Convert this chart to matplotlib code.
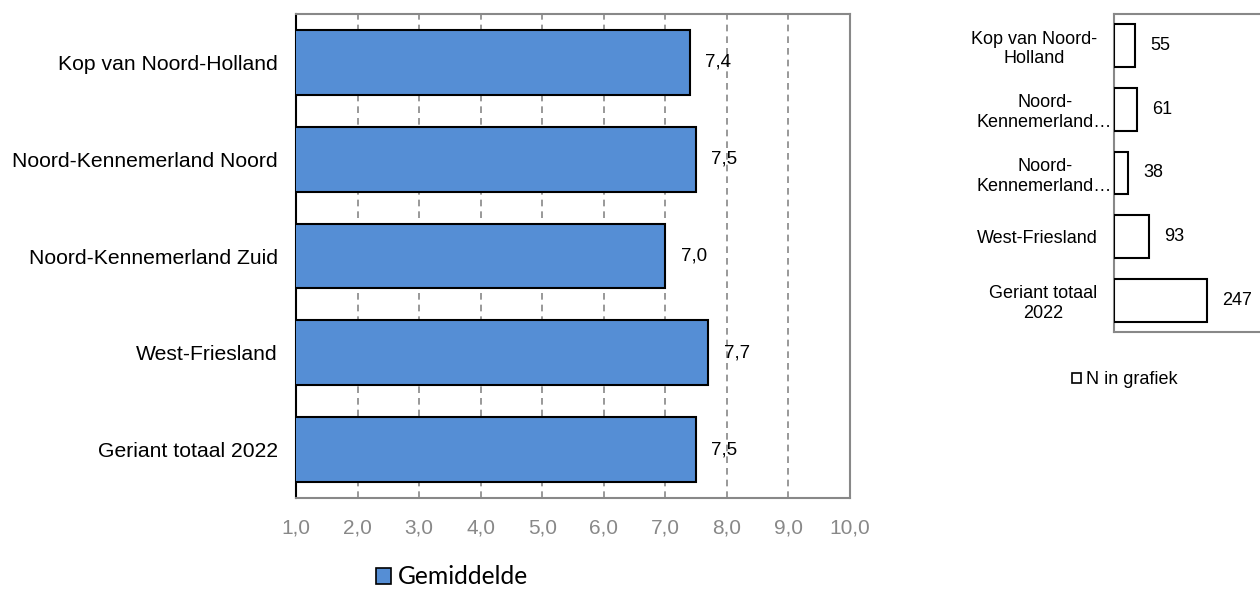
import matplotlib
matplotlib.use("Agg")
import matplotlib.pyplot as plt
from matplotlib.patches import Patch
from matplotlib.transforms import ScaledTranslation

plt.rcParams['font.family'] = ['Liberation Sans', 'DejaVu Sans']

# Gemiddelde per regio
categories = ["Kop van Noord-Holland", "Noord-Kennemerland Noord",
              "Noord-Kennemerland Zuid", "West-Friesland", "Geriant totaal 2022"]
gemiddelde = [7.4, 7.5, 7.0, 7.7, 7.5]
x_ticks = [1, 2, 3, 4, 5, 6, 7, 8, 9, 10]

# Aantallen respondenten per regio
n_labels = ["Kop van Noord-\nHolland", "Noord-\nKennemerland…", "Noord-\nKennemerland…",
            "West-Friesland", "Geriant totaal\n2022"]
n_values = [55, 61, 38, 93, 247]

blue = "#558ED5"
grey = "#888888"

fig = plt.figure(figsize=(12.6, 5.89), dpi=100)

# ---- Gemiddelde ----
ax = fig.add_axes([296 / 1260, 1 - 498 / 589, (850 - 296) / 1260, (498 - 14) / 589])
ypos = list(range(len(categories)))
ax.barh(ypos, gemiddelde, left=0, height=0.67, color=blue, edgecolor="black",
        linewidth=1.5, zorder=3)
ax.set_xlim(1, 10)
ax.set_ylim(len(categories) - 0.5, -0.5)
ax.set_xticks(x_ticks)
ax.set_xticklabels([f"{t:.1f}".replace(".", ",") for t in x_ticks])
ax.set_yticks(ypos)
ax.set_yticklabels(categories, fontsize=15.2)
ax.tick_params(axis="y", length=0, pad=13)
ax.tick_params(axis="x", length=0, pad=14.5, labelsize=15, labelcolor=grey)
for t in x_ticks[1:-1]:
    ax.axvline(t, color=grey, linestyle=(0, (4, 3)), linewidth=1.2, zorder=1)
for side in ["top", "right", "bottom"]:
    ax.spines[side].set_color(grey)
    ax.spines[side].set_linewidth(1.5)
ax.spines["left"].set_color("black")
ax.spines["left"].set_linewidth(1.5)
for y, v in zip(ypos, gemiddelde):
    ax.annotate(f"{v:.1f}".replace(".", ","), xy=(v, y), xytext=(11, 0),
                textcoords="offset points", va="center", ha="left", fontsize=13.5)

fig.legend(handles=[Patch(facecolor=blue, edgecolor="black", linewidth=1.2)],
           labels=["Gemiddelde"], loc="center left",
           bbox_to_anchor=(369 / 1260, 1 - 577 / 589), frameon=False,
           handlelength=0.6, handleheight=0.6, handletextpad=0.28,
           borderaxespad=0, borderpad=0.3,
           prop={"family": "Lato", "size": 17.7})

# ---- N in grafiek ----
ax2 = fig.add_axes([1114 / 1260, 1 - 332 / 589, 150 / 1260, (332 - 14) / 589])
ax2.barh(ypos, n_values, height=0.67, color="white", edgecolor="black",
         linewidth=1.5, zorder=3)
ax2.set_xlim(0, 400)
ax2.set_ylim(len(n_values) - 0.5, -0.5)
ax2.set_xticks([])
ax2.set_yticks(ypos)
ax2.set_yticklabels(n_labels, fontsize=13, multialignment="center")
ax2.tick_params(axis="y", length=0, pad=12)
# truncated labels run on up to the axis line
for lbl in ax2.get_yticklabels():
    if lbl.get_text().endswith("…"):
        lbl.set_transform(lbl.get_transform()
                          + ScaledTranslation(15 / 100, 0, fig.dpi_scale_trans))
for side in ["top", "left", "bottom"]:
    ax2.spines[side].set_color(grey)
    ax2.spines[side].set_linewidth(1.5)
ax2.spines["right"].set_visible(False)
for y, v in zip(ypos, n_values):
    ax2.annotate(str(v), xy=(v, y), xytext=(11, 0), textcoords="offset points",
                 va="center", ha="left", fontsize=13)

fig.legend(handles=[Patch(facecolor="white", edgecolor="black", linewidth=1.2)],
           labels=["N in grafiek"], loc="center left",
           bbox_to_anchor=(1067 / 1260, 1 - 380 / 589), frameon=False,
           handlelength=0.5, handleheight=0.5, handletextpad=0.25,
           borderaxespad=0, borderpad=0.3,
           prop={"size": 13})

fig.savefig("out.png", dpi=100)
